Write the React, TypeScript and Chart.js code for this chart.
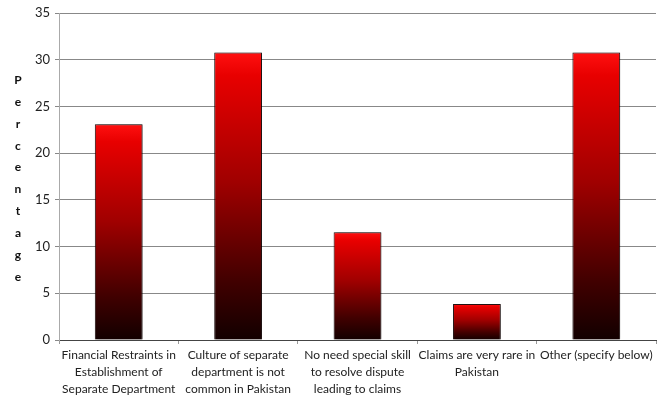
import React, { useEffect, useRef } from "react";
import { Chart, registerables } from "chart.js";

Chart.register(...registerables);

const categories: string[][] = [
  ["Financial Restraints in", "Establishment of", "Separate Department"],
  ["Culture of separate", "department is not", "common in Pakistan"],
  ["No need special skill", "to resolve dispute", "leading to claims"],
  ["Claims are very rare in", "Pakistan"],
  ["Other (specify below)"],
];
const percentages: number[] = [23.08, 30.77, 11.54, 3.85, 30.77];
const yTitle = "Percentage";

const FONT = "Lato, 'Open Sans', sans-serif";

const verticalTitle = {
  id: "verticalTitle",
  afterDraw(chart: any) {
    const ctx = chart.ctx;
    ctx.save();
    ctx.font = `bold 12px ${FONT}`;
    ctx.fillStyle = "#111";
    ctx.textAlign = "center";
    ctx.textBaseline = "middle";
    const letters = yTitle.split("");
    const start = 80;
    const step = 21.9;
    letters.forEach((l, i) => ctx.fillText(l, 18, start + i * step));
    ctx.restore();
  },
};

const barShadow = {
  id: "barShadow",
  beforeDatasetsDraw(chart: any) {
    const ctx = chart.ctx;
    ctx.save();
    ctx.shadowColor = "rgba(0,0,0,0.5)";
    ctx.shadowBlur = 3;
    ctx.shadowOffsetX = 1;
    ctx.shadowOffsetY = 0;
  },
  afterDatasetsDraw(chart: any) {
    chart.ctx.restore();
  },
};

export default function App() {
  const ref = useRef<HTMLCanvasElement | null>(null);
  useEffect(() => {
    document.body.style.margin = "0";
    const canvas = ref.current!;
    const chart = new Chart(canvas, {
      type: "bar",
      data: {
        labels: categories,
        datasets: [
          {
            data: percentages,
            backgroundColor: (c: any) => {
              const ch = c.chart;
              if (!ch.chartArea || c.type !== "data") return "#c00000";
              const y = ch.scales.y;
              const top = y.getPixelForValue(c.raw);
              const bottom = y.getPixelForValue(0);
              const g = ch.ctx.createLinearGradient(0, top, 0, bottom);
              g.addColorStop(0, "#ff1010");
              g.addColorStop(0.08, "#e80000");
              g.addColorStop(0.45, "#a00000");
              g.addColorStop(0.8, "#400000");
              g.addColorStop(1, "#120000");
              return g;
            },
            borderColor: "rgba(20,0,0,0.9)",
            borderWidth: 1,
            barPercentage: 0.4,
            categoryPercentage: 1,
          },
        ],
      },
      options: {
        responsive: false,
        animation: false,
        layout: { padding: { top: 13, right: 6, left: 0, bottom: 0 } },
        plugins: {
          legend: { display: false },
          tooltip: { enabled: false },
        },
        scales: {
          x: {
            grid: {
              offset: true,
              drawOnChartArea: false,
              drawTicks: true,
              tickLength: 4,
              color: "#999",
            },
            border: { color: "#444", width: 1 },
            ticks: {
              color: "#222",
              font: { family: FONT, size: 12, lineHeight: 1.4 },
              padding: 3,
              maxRotation: 0,
              autoSkip: false,
            },
            afterFit: (s: any) => {
              s.height = 67;
            },
          },
          y: {
            min: 0,
            max: 35,
            ticks: {
              stepSize: 5,
              color: "#222",
              font: { family: FONT, size: 13 },
              padding: 5,
            },
            grid: { color: "#888", tickLength: 4 },
            border: { color: "#aaa" },
            afterFit: (s: any) => {
              s.width = 59;
            },
          },
        },
      },
      plugins: [verticalTitle, barShadow],
    });
    return () => chart.destroy();
  }, []);
  return <canvas ref={ref} width={662} height={407} style={{ display: "block" }} />;
}
